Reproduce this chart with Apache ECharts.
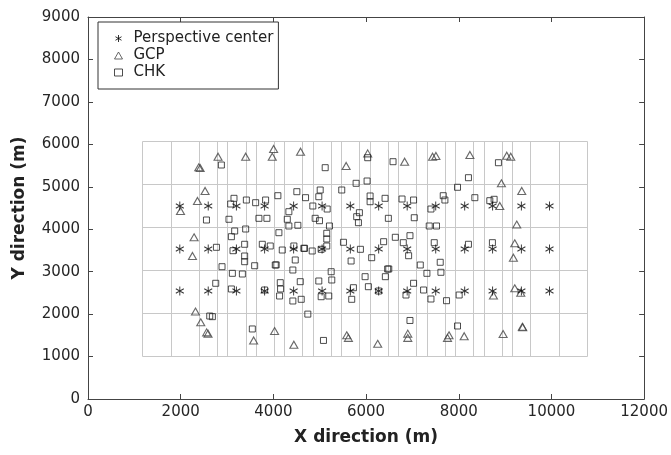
<!DOCTYPE html>
<html>
<head>
<meta charset="utf-8">
<script src="https://cdn.jsdelivr.net/npm/echarts@6/dist/echarts.min.js"></script>
<style>
  html, body { margin: 0; padding: 0; background: #fff; }
  #chart { width: 671px; height: 455px; }
</style>
</head>
<body>
<div id="chart"></div>
<script>
// Perspective centre grid (strip columns x, strip rows y), metres
const centerX = [1981, 2594, 3202, 3811, 4437, 5051, 5660, 6272, 6887, 7503, 8128, 8730, 9351, 9958];
const centerY = [2544, 3534, 4547];
// Image footprint size on ground (m)
const footprintWidth = 1624;
const footprintHeight = 3040;

// Ground control points
const gcp = [
  [2806,5709],[2390,5459],[2420,5440],[3402,5709],[4005,5890],[3976,5709],[4586,5827],
  [5570,5490],[6035,5787],[6832,5591],[7435,5709],[7507,5725],[8240,5749],[9036,5732],
  [9122,5709],[8920,5082],[9359,4900],[2526,4900],[2362,4665],[1996,4429],[8885,4547],
  [9251,4110],[9208,3668],[9179,3329],[2289,3810],[2254,3369],[8748,2440],[9208,2608],
  [9338,2504],[2319,2060],[2433,1807],[2560,1570],[2590,1540],[3574,1380],[4026,1600],
  [4442,1280],[5583,1500],[5619,1440],[6251,1300],[6900,1540],[6900,1440],[7757,1440],
  [7790,1500],[8117,1480],[8957,1530],[9372,1700],[9380,1690]
];

// Check points
const chk = [
  [2878,5513],[3150,4728],[3079,4594],[3417,4688],[3617,4625],[3832,4688],[4097,4790],
  [4506,4884],[4694,4743],[4334,4413],[2556,4217],[3042,4234],[3688,4257],[3860,4257],
  [4300,4234],[4334,4076],[4528,4092],
  [2771,3574],[3094,3824],[3165,3958],[3402,4005],[3129,3494],[3380,3645],[3380,3369],
  [3380,3235],[2892,3117],[3596,3140],[3115,2961],[3331,2945],[3761,3645],[3933,3605],
  [4119,3918],[4192,3510],[4442,3605],[4657,3550],[4472,3275],[4041,3157],[4060,3160],
  [4420,3039],[2756,2726],[3094,2592],[3811,2568],[4149,2741],[4155,2592],[4134,2427],
  [4580,2764],[4420,2309],[4601,2349],
  [2627,1955],[2684,1940],[3546,1650],[4743,2000],[5081,1380],[6947,1850],[7973,1720],
  [5690,2349],[6861,2450],[7400,2356],[7736,2316],[8009,2450],[5031,2410],[5195,2427],
  [5118,5450],[6582,5591],[6035,5685],[5785,5082],[6022,5136],[8209,5214],[7973,4988],
  [5010,4924],[4980,4766],[4851,4547],[5161,4476],[5475,4924],[6087,4783],[6087,4648],
  [6410,4728],[6776,4712],[7025,4688],[7665,4790],[7701,4688],[7400,4476],[8347,4743],
  [5856,4389],[5798,4295],[5835,4154],[6481,4257],[7040,4271],[4902,4257],[4995,4201],
  [5210,4076],[7363,4076],[7520,4076],
  [5152,3904],[5152,3770],[5152,3605],[4672,3550],[4838,3487],[5031,3527],[5512,3692],
  [5878,3527],[5677,3251],[6121,3329],[6379,3706],[6631,3810],[6803,3683],[6947,3848],
  [6918,3376],[7170,3157],[7471,3683],[7600,3221],[8209,3645],[5247,2999],[5260,2804],
  [4980,2780],[5727,2622],[6050,2646],[5979,2882],[6466,3063],[6490,3063],[6416,2882],
  [6272,2544],[7025,2726],[7241,2568],[7313,2961],[7615,2985],
  [8856,5567],[8670,4672],[8763,4705],[8726,3683]
];

const xTicks = [0, 2000, 4000, 6000, 8000, 10000, 12000];
const yTicks = [0, 1000, 2000, 3000, 4000, 5000, 6000, 7000, 8000, 9000];

const centers = [];
centerY.forEach(y => centerX.forEach(x => centers.push([x, y])));

const FONT = 'DejaVu Sans';
const asterisk = 'path://M5,0L5,10M0.67,2.5L9.33,7.5M0.67,7.5L9.33,2.5';

const chart = echarts.init(document.getElementById('chart'), null, { renderer: 'canvas' });

const axisCommon = {
  min: 0,
  axisLine: { show: true, onZero: false, lineStyle: { color: '#444', width: 1 } },
  axisTick: { show: true, inside: true, length: 5, lineStyle: { color: '#444' } },
  splitLine: { show: false }
};

chart.setOption({
  animation: false,
  backgroundColor: '#fff',
  grid: { left: 88, right: 26, top: 17, bottom: 56, containLabel: false },
  legend: {
    orient: 'vertical',
    left: 98,
    top: 22,
    padding: [9, 5, 9, 16],
    itemWidth: 8,
    itemHeight: 7,
    itemGap: 2,
    symbolKeepAspect: true,
    backgroundColor: '#fff',
    borderColor: '#333',
    borderWidth: 1,
    borderRadius: 0,
    textStyle: { fontFamily: FONT, fontSize: 15, color: '#222', padding: [0, 0, 0, 6] },
    data: [
      { name: 'Perspective center', itemStyle: { color: '#000', borderColor: '#000', borderWidth: 1 } },
      { name: 'GCP', itemStyle: { color: 'rgba(255,255,255,0)', borderColor: '#444', borderWidth: 1 } },
      { name: 'CHK', itemStyle: { color: 'rgba(255,255,255,0)', borderColor: '#222', borderWidth: 1 } }
    ]
  },
  xAxis: [
    Object.assign({}, axisCommon, {
      type: 'value', position: 'bottom', max: 12000, interval: 2000,
      name: 'X direction (m)', nameLocation: 'middle', nameGap: 30,
      nameTextStyle: { fontFamily: FONT, fontSize: 17, fontWeight: 'bold', color: '#222' },
      axisLabel: { fontFamily: FONT, fontSize: 15, color: '#262626', margin: 6,
        formatter: v => xTicks.includes(v) ? String(v) : '' }
    }),
    Object.assign({}, axisCommon, {
      type: 'value', position: 'top', max: 12000, interval: 2000,
      axisLabel: { show: false }
    })
  ],
  yAxis: [
    Object.assign({}, axisCommon, {
      type: 'value', position: 'left', max: 9000, interval: 1000,
      name: 'Y direction (m)', nameLocation: 'middle', nameGap: 60, nameRotate: 90,
      nameTextStyle: { fontFamily: FONT, fontSize: 17, fontWeight: 'bold', color: '#222' },
      axisLabel: { fontFamily: FONT, fontSize: 15, color: '#262626', margin: 8,
        formatter: v => yTicks.includes(v) ? String(v) : '' }
    }),
    Object.assign({}, axisCommon, {
      type: 'value', position: 'right', max: 9000, interval: 1000,
      axisLabel: { show: false }
    })
  ],
  series: [
    {
      name: 'footprints',
      type: 'custom',
      silent: true,
      z: 1,
      data: centers,
      renderItem: function (params, api) {
        const x = api.value(0), y = api.value(1);
        const p1 = api.coord([x - footprintWidth / 2, y + footprintHeight / 2]);
        const p2 = api.coord([x + footprintWidth / 2, y - footprintHeight / 2]);
        return {
          type: 'rect',
          shape: { x: Math.round(p1[0]) + 0.5, y: Math.round(p1[1]) + 0.5,
                   width: Math.round(p2[0] - p1[0]), height: Math.round(p2[1] - p1[1]) },
          style: { fill: 'none', stroke: '#c8c8c8', lineWidth: 1 }
        };
      }
    },
    {
      name: 'Perspective center',
      type: 'scatter',
      z: 4,
      symbol: asterisk,
      symbolSize: [8, 9],
      itemStyle: { color: '#000', borderColor: '#000', borderWidth: 1 },
      data: centers
    },
    {
      name: 'GCP',
      type: 'scatter',
      z: 3,
      symbol: 'triangle',
      symbolSize: [8, 7],
      itemStyle: { color: 'rgba(255,255,255,0)', borderColor: '#444', borderWidth: 1.1 },
      data: gcp
    },
    {
      name: 'CHK',
      type: 'scatter',
      z: 3,
      symbol: 'rect',
      symbolSize: 6,
      itemStyle: { color: 'rgba(255,255,255,0)', borderColor: '#222', borderWidth: 1 },
      data: chk
    }
  ]
});
</script>
</body>
</html>
